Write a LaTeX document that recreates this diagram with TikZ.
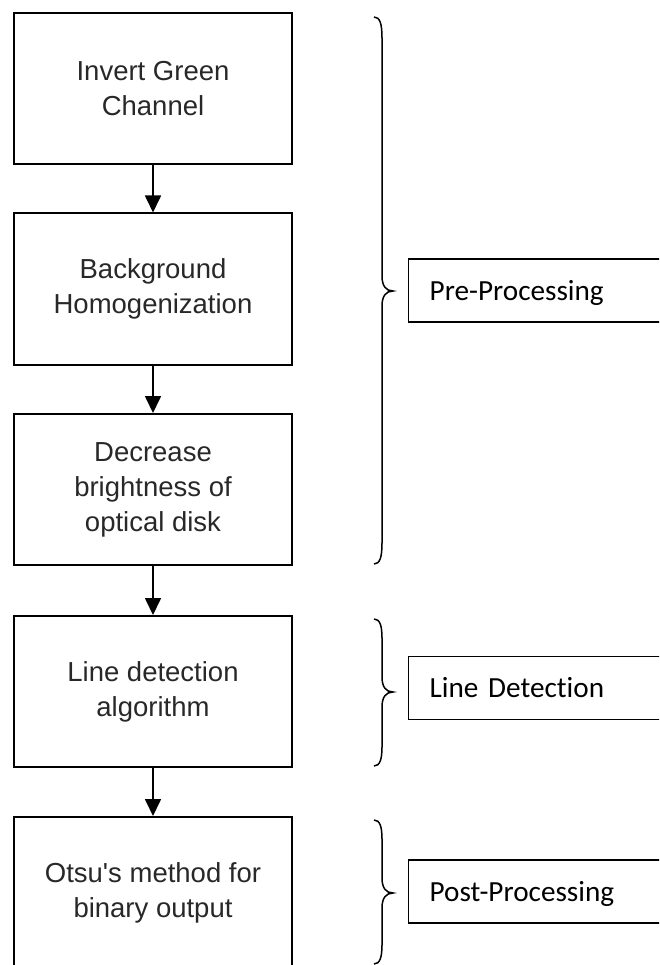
\documentclass[tikz,border=0pt]{standalone}
\usepackage{fontspec}
\setmainfont{Liberation Sans}
\newfontfamily\calibrifont[Ligatures=NoCommon]{Carlito}
\usetikzlibrary{arrows.meta}
\definecolor{boxtext}{RGB}{40,40,40}
\begin{document}
\begin{tikzpicture}[x=1pt,y=-1pt,
  stepbox/.style={draw, line width=2pt, minimum width=278pt, minimum height=151pt,
    align=center, inner sep=0pt, text=boxtext, font=\fontsize{27.5}{35}\selectfont},
  flow/.style={line width=1.7pt, -{Triangle[width=16pt,length=17pt]}},
  tag/.style={draw, line width=1.3pt, anchor=west, minimum height=63pt,
    text width=240pt, inner xsep=21pt, inner ysep=0pt, align=left,
    text height=19pt, text depth=0pt, font=\calibrifont\fontsize{29.2}{35}\selectfont},
  brace/.style={line width=1.5pt}]
\useasboundingbox (0,0) rectangle (659,965);
\clip (0,0) rectangle (659,965);
% flow boxes
\node[stepbox] (b1) at (153,88.5) {Invert Green\\Channel};
\node[stepbox] (b2) at (153,289) {Background\\Homogenization};
\node[stepbox] (b3) at (153,489.5) {Decrease\\brightness of\\optical disk};
\node[stepbox] (b4) at (153,691.5) {Line detection\\algorithm};
\node[stepbox] (b5) at (153,892.5) {Otsu\textquotesingle s method for\\binary output};
% connectors
\draw[flow] (b1) -- (b2);
\draw[flow] (b2) -- (b3);
\draw[flow] (b3) -- (b4);
\draw[flow] (b4) -- (b5);
% labels
\node[tag] (t1) at (408,290.5) {Pre-Processing};
\node[tag] (t2) at (408,688) {Line Detection};
\node[tag] (t3) at (408,891.5) {Post-Processing};
% braces
\draw[brace] (374,17) .. controls (380,17) and (382,24) .. (382,38) -- (382,276)
  .. controls (382,286) and (386,291) .. (393,291)
  .. controls (386,291) and (382,296) .. (382,306) -- (382,543)
  .. controls (382,557) and (380,564) .. (374,564);
\draw[brace] (374,619) .. controls (380,619) and (382,626) .. (382,638) -- (382,677)
  .. controls (382,687) and (386,692) .. (393,692)
  .. controls (386,692) and (382,697) .. (382,707) -- (382,747)
  .. controls (382,759) and (380,766) .. (374,766);
\draw[brace] (374,820) .. controls (380,820) and (382,827) .. (382,839) -- (382,878)
  .. controls (382,888) and (386,893) .. (393,893)
  .. controls (386,893) and (382,898) .. (382,908) -- (382,945)
  .. controls (382,957) and (380,964) .. (374,964);
\end{tikzpicture}
\end{document}
